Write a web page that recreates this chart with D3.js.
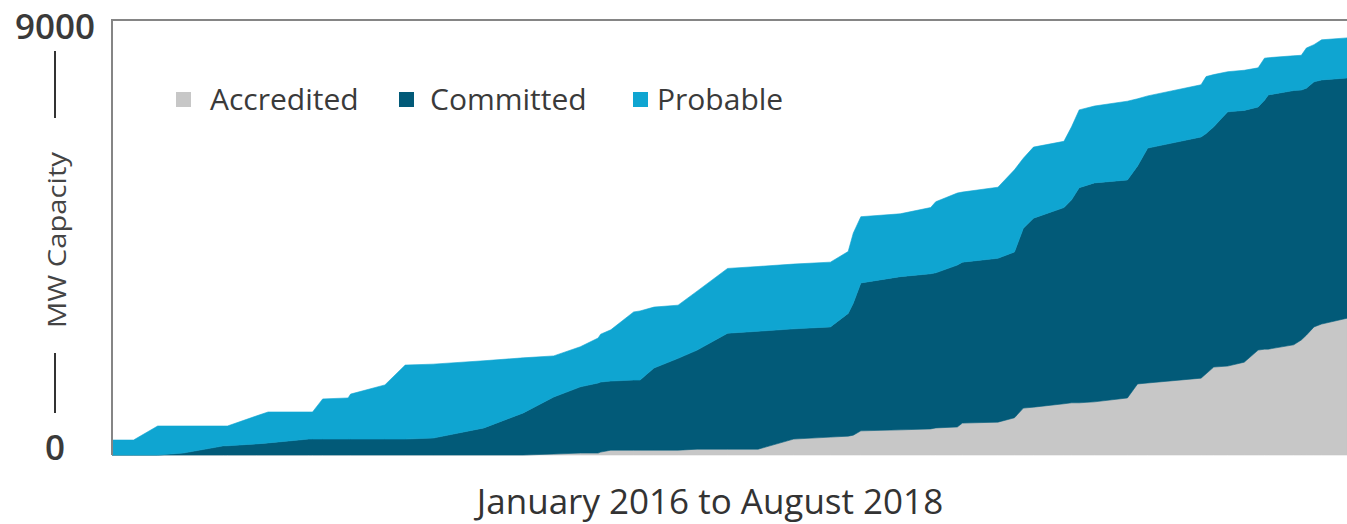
<!DOCTYPE html>
<html>
<head>
<meta charset="utf-8">
<script src="https://cdn.jsdelivr.net/npm/d3@7"></script>
<style>
  html, body { margin: 0; padding: 0; background: #ffffff; }
  svg { display: block; }
  text { font-family: "Open Sans", "Noto Sans", sans-serif; }
</style>
</head>
<body>
<svg id="chart" width="1347" height="524"></svg>
<script>
// ---- Data (MW capacity) ----
const dates = [
  "2016-01-01","2016-01-18","2016-02-06","2016-02-26","2016-03-29","2016-04-01","2016-04-24","2016-05-03",
  "2016-06-04","2016-06-07","2016-06-15","2016-07-05","2016-07-07","2016-08-03","2016-08-19","2016-09-10",
  "2016-10-20","2016-11-20","2016-12-14","2017-01-04","2017-01-18","2017-01-20","2017-01-28","2017-02-15",
  "2017-02-20","2017-03-03","2017-03-22","2017-04-06","2017-04-30","2017-05-24","2017-06-21","2017-07-20",
  "2017-08-03","2017-08-07","2017-08-13","2017-09-13","2017-10-07","2017-10-11","2017-10-28","2017-11-01",
  "2017-11-29","2017-12-12","2017-12-19","2017-12-27","2018-01-20","2018-01-26","2018-02-01","2018-02-13",
  "2018-03-11","2018-03-19","2018-03-27","2018-05-08","2018-05-12","2018-05-18","2018-05-29","2018-06-11",
  "2018-06-22","2018-06-27","2018-06-30","2018-07-20","2018-07-26","2018-07-30","2018-08-05","2018-08-11",
  "2018-08-31"
];
const accredited = [
  0,0,0,0,0,0,0,0,
  0,0,0,0,0,0,0,0,
  0,0,20,40,40,60,100,100,
  100,100,100,120,120,120,330,370,
  390,410,500,520,540,560,580,660,
  680,770,970,990,1060,1080,1080,1100,
  1180,1470,1490,1590,1680,1820,1840,1920,
  2170,2190,2190,2280,2380,2480,2650,2710,
  2830
];
const committed = [
  0,0,0,40,190,190,230,250,
  330,330,330,330,330,330,330,350,
  560,870,1180,1370,1450,1450,1430,1450,
  1450,1700,1900,2050,2400,2440,2280,2280,
  2540,2730,3060,3170,3210,3210,3350,3330,
  3390,3430,3720,3910,4060,4200,4450,4530,
  4510,4510,4860,4990,4970,4970,5260,5210,
  5030,5150,5260,5260,5170,5110,5070,5050,
  4970
];
const probable = [
  310,310,600,560,410,410,580,640,
  560,560,830,850,930,1120,1530,1530,
  1390,1140,850,830,930,990,1060,1410,
  1430,1260,1100,1220,1340,1340,1340,1340,
  1280,1450,1370,1300,1370,1470,1490,1450,
  1470,1700,1450,1470,1370,1510,1610,1590,
  1630,1390,1080,1080,1180,1080,830,830,
  810,870,770,720,720,830,770,830,
  830
];
const seriesNames = ["Accredited", "Committed", "Probable"];
const seriesColors = ["#c7c7c7", "#025a78", "#0fa5d1"];
const yTickLabels = ["0", "9000"];
const yMax = 9000;
const yAxisTitle = "MW Capacity";
const xAxisTitle = "January 2016 to August 2018";

// ---- Build table ----
const parse = d3.timeParse("%Y-%m-%d");
const table = dates.map((d, i) => ({
  date: parse(d),
  Accredited: accredited[i],
  Committed: committed[i],
  Probable: probable[i]
}));

const svg = d3.select("#chart");
const mLeft = 112, mRight = 1347, mTop = 20, mBottom = 455;

const x = d3.scaleTime()
  .domain([parse("2016-01-01"), parse("2018-08-31")])
  .range([mLeft, mRight]);
const y = d3.scaleLinear().domain([0, yMax]).range([mBottom, mTop]);
const color = d3.scaleOrdinal().domain(seriesNames).range(seriesColors);

const stacked = d3.stack().keys(seriesNames)(table);

const area = d3.area()
  .x(d => x(d.data.date))
  .y0(d => y(d[0]))
  .y1(d => y(d[1]))
  .curve(d3.curveLinear);

svg.append("g").selectAll("path")
  .data(stacked)
  .join("path")
  .attr("d", area)
  .attr("fill", d => color(d.key))
  .attr("stroke", d => color(d.key))
  .attr("stroke-width", 0.6);

// frame (left + top)
svg.append("path")
  .attr("d", `M${mLeft},${mBottom} V${mTop} H${mRight}`)
  .attr("fill", "none")
  .attr("stroke", "#858585")
  .attr("stroke-width", 2);

// y labels
svg.append("text")
  .attr("x", 55).attr("y", y(yMax) + 5)
  .attr("text-anchor", "middle").attr("dominant-baseline", "central")
  .attr("font-size", 35).attr("font-weight", 600).attr("fill", "#3a3a3a")
  .text(yTickLabels[1]);
svg.append("text")
  .attr("x", 55).attr("y", y(0) - 9)
  .attr("text-anchor", "middle").attr("dominant-baseline", "central")
  .attr("font-size", 35).attr("font-weight", 600).attr("fill", "#3a3a3a")
  .text(yTickLabels[0]);

// y axis dashes and title
svg.append("line").attr("x1", 55).attr("x2", 55).attr("y1", 51).attr("y2", 118)
  .attr("stroke", "#333").attr("stroke-width", 2);
svg.append("line").attr("x1", 55).attr("x2", 55).attr("y1", 353).attr("y2", 413)
  .attr("stroke", "#333").attr("stroke-width", 2);
svg.append("text")
  .attr("transform", "translate(66,240) rotate(-90)")
  .attr("text-anchor", "middle")
  .attr("font-size", 25).attr("fill", "#444")
  .attr("textLength", 176).attr("lengthAdjust", "spacingAndGlyphs")
  .text(yAxisTitle);

// x title
svg.append("text")
  .attr("x", 710).attr("y", 514)
  .attr("text-anchor", "middle")
  .attr("font-size", 35).attr("fill", "#333")
  .text(xAxisTitle);

// legend
const legSquareX = [176, 399, 633];
const legTextX = [210, 430, 657];
const lg = svg.append("g").selectAll("g")
  .data(seriesNames)
  .join("g");
lg.append("rect")
  .attr("x", (d, i) => legSquareX[i]).attr("y", 92)
  .attr("width", 15).attr("height", 15)
  .attr("fill", d => color(d));
lg.append("text")
  .attr("x", (d, i) => legTextX[i]).attr("y", 110)
  .attr("font-size", 30).attr("fill", "#3a3a3a")
  .text(d => d);
</script>
</body>
</html>
